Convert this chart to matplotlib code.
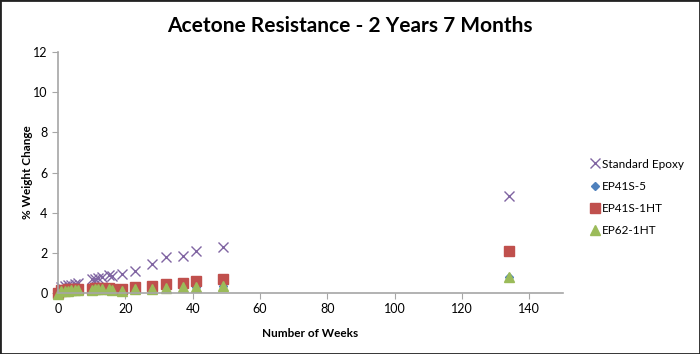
import matplotlib.pyplot as plt
from matplotlib.patches import Rectangle

plt.rcParams['font.family'] = ['Lato', 'DejaVu Sans']

# weeks of measurement
weeks = [0, 1, 2, 3, 4, 5, 6, 10, 11, 12, 13, 15, 16, 19, 23, 28, 32, 37, 41, 49, 134]

# % weight change for each material
standard_epoxy = [0.0, 0.3, 0.35, 0.4, 0.42, 0.45, 0.5, 0.68, 0.72, 0.76, 0.8, 0.88, 0.85,
                  0.94, 1.08, 1.43, 1.78, 1.86, 2.1, 2.3, 4.82]
ep41s_5 = [-0.05, 0.08, 0.1, 0.1, 0.12, 0.12, 0.12, 0.14, 0.15, 0.15, 0.15, 0.16, 0.15,
           0.12, 0.16, 0.2, 0.24, 0.3, 0.3, 0.35, 0.8]
ep41s_1ht = [0.0, 0.15, 0.17, 0.18, 0.2, 0.2, 0.2, 0.22, 0.24, 0.24, 0.25, 0.25, 0.22,
             0.22, 0.3, 0.35, 0.45, 0.5, 0.6, 0.7, 2.1]
ep62_1ht = [-0.05, 0.1, 0.12, 0.12, 0.14, 0.14, 0.14, 0.16, 0.18, 0.18, 0.18, 0.18, 0.16,
            0.12, 0.18, 0.22, 0.26, 0.3, 0.3, 0.36, 0.78]

fig = plt.figure(figsize=(7, 3.54), dpi=100)
ax = fig.add_axes([58 / 700, 1 - 293 / 354, 505 / 700, 241 / 354])

ax.plot(weeks, standard_epoxy, linestyle='none', marker='x', color='#8064A2',
        ms=7, mew=1.0, label='Standard Epoxy', clip_on=False)
ax.plot(weeks, ep41s_5, linestyle='none', marker='D', color='#4F81BD',
        ms=4.5, label='EP41S-5', clip_on=False)
ax.plot(weeks, ep41s_1ht, linestyle='none', marker='s', color='#C0504D',
        ms=6.5, label='EP41S-1HT', clip_on=False)
ax.plot(weeks, ep62_1ht, linestyle='none', marker='^', color='#9BBB59',
        ms=7, label='EP62-1HT', clip_on=False)

ax.set_xlim(0, 150)
ax.set_ylim(0, 12)
ax.set_xticks(range(0, 141, 20))
ax.set_yticks(range(0, 13, 2))

for side in ['top', 'right']:
    ax.spines[side].set_visible(False)
for side in ['left', 'bottom']:
    ax.spines[side].set_color('#A6A6A6')
    ax.spines[side].set_linewidth(1.2)
ax.tick_params(colors='#A6A6A6', labelcolor='black', labelsize=9, length=4)

ax.set_xlabel('Number of Weeks', fontsize=8.5, fontweight='bold', labelpad=9)
ax.set_ylabel('% Weight Change', fontsize=8.5, fontweight='bold', labelpad=0)

fig.suptitle('Acetone Resistance - 2 Years 7 Months', fontsize=15, fontweight='bold', y=0.955)

fig.legend(loc='upper left', bbox_to_anchor=(577 / 700, 1 - 148 / 354), frameon=False,
           fontsize=8.5, handletextpad=0.0, labelspacing=0.95, handlelength=1.2)

fig.patches.append(Rectangle((0, 0), 1, 1, transform=fig.transFigure, fill=False,
                             edgecolor='#222222', linewidth=2))

fig.savefig('out.png', dpi=100)
